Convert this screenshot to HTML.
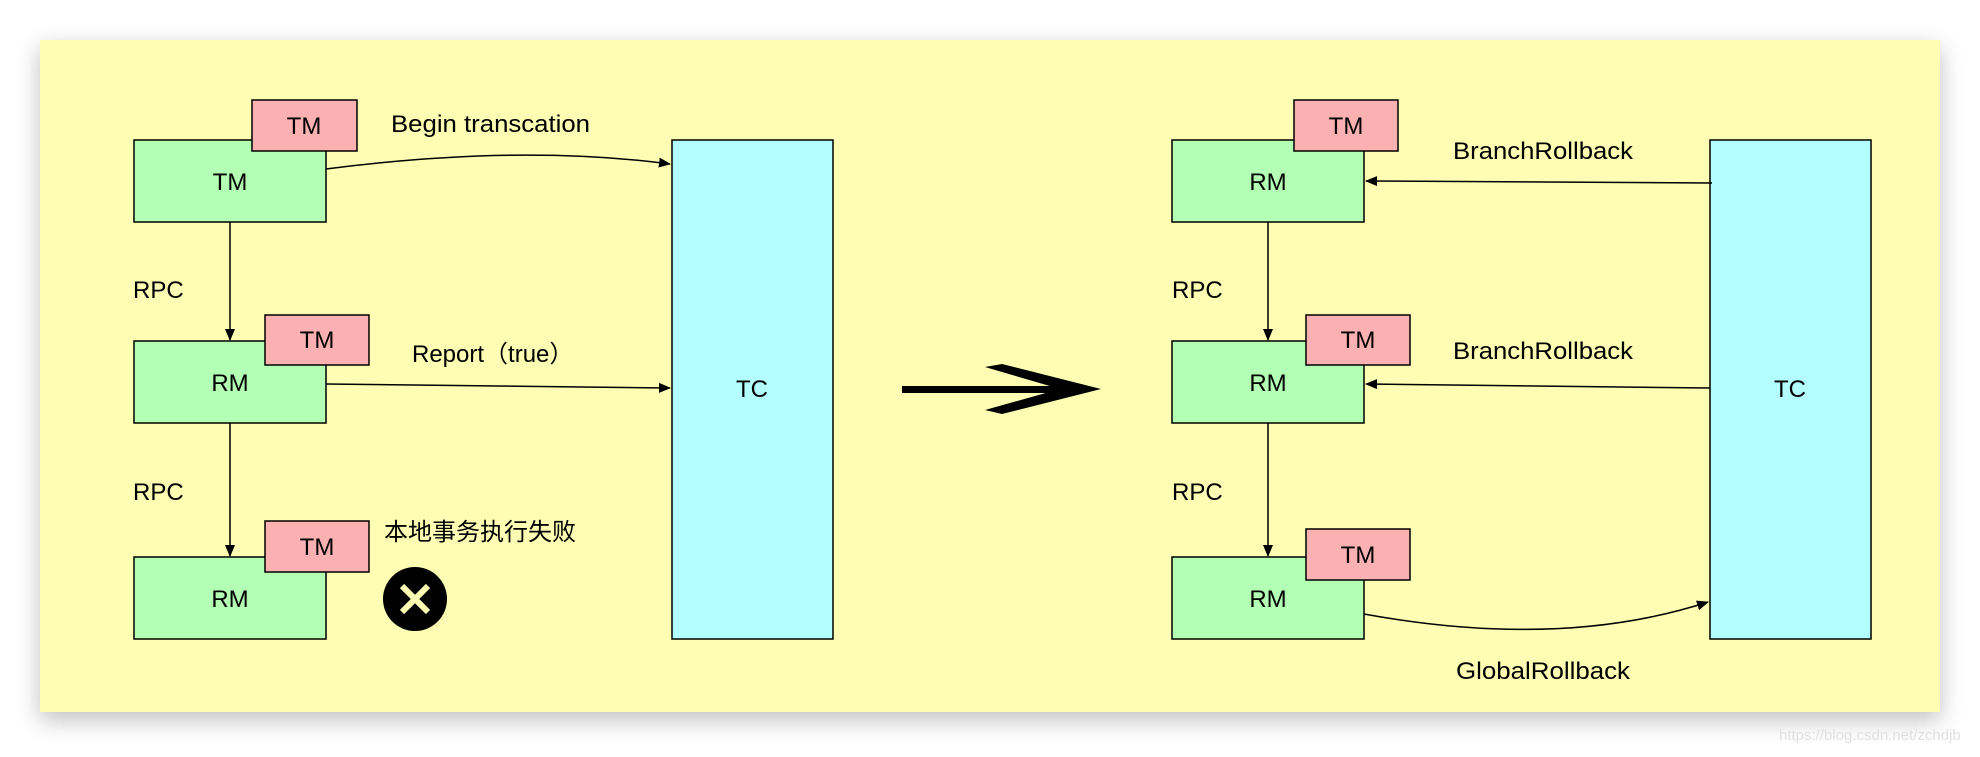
<!DOCTYPE html>
<html><head><meta charset="utf-8"><style>
body{margin:0;width:1980px;height:752px;background:#fff;overflow:hidden}
svg text{font-family:"Liberation Sans","Noto Sans CJK SC",sans-serif;font-size:24px;fill:#000}
</style></head><body>
<svg width="1980" height="752" xmlns="http://www.w3.org/2000/svg">
<defs>
<filter id="sh" x="-5%" y="-10%" width="110%" height="120%"><feGaussianBlur stdDeviation="12"/></filter>
<marker id="ar" markerWidth="12" markerHeight="10" refX="11" refY="5" orient="auto" markerUnits="userSpaceOnUse"><path d="M0,0 L12,5 L0,10 Z" fill="#000"/></marker>
</defs>
<rect x="40" y="48" width="1900" height="672" fill="#000" opacity="0.25" filter="url(#sh)"/>
<rect x="40" y="40" width="1900" height="672" fill="#fdfdb3"/>
<g stroke="#000" stroke-width="1.5">
<rect x="134" y="140" width="192" height="82" fill="#b3ffb3"/>
<rect x="252" y="100" width="105" height="51" fill="#fbb1b1"/>
<rect x="134" y="341" width="192" height="82" fill="#b3ffb3"/>
<rect x="265" y="315" width="104" height="50" fill="#fbb1b1"/>
<rect x="134" y="557" width="192" height="82" fill="#b3ffb3"/>
<rect x="265" y="521" width="104" height="51" fill="#fbb1b1"/>
<rect x="672" y="140" width="161" height="499" fill="#b3ffff"/>
<rect x="1172" y="140" width="192" height="82" fill="#b3ffb3"/>
<rect x="1294" y="100" width="104" height="51" fill="#fbb1b1"/>
<rect x="1172" y="341" width="192" height="82" fill="#b3ffb3"/>
<rect x="1306" y="315" width="104" height="50" fill="#fbb1b1"/>
<rect x="1172" y="557" width="192" height="82" fill="#b3ffb3"/>
<rect x="1306" y="529" width="104" height="51" fill="#fbb1b1"/>
<rect x="1710" y="140" width="161" height="499" fill="#b3ffff"/>
</g>
<g stroke="#000" stroke-width="1.5" fill="none" marker-end="url(#ar)">
<path d="M326,169 Q520,144 670,164"/>
<path d="M326,384 L670,388"/>
<line x1="230" y1="222" x2="230" y2="340"/>
<line x1="230" y1="423" x2="230" y2="556"/>
<path d="M1712,183 L1366,181"/>
<path d="M1710,388 L1366,384"/>
<line x1="1268" y1="222" x2="1268" y2="340"/>
<line x1="1268" y1="423" x2="1268" y2="556"/>
<path d="M1364,614 Q1560,650 1708,602"/>
</g>
<rect x="902" y="386" width="160" height="7" fill="#000"/>
<polygon points="985,367 1002,364 1101,389 1002,414 985,410 1060,389" fill="#000"/>
<circle cx="415" cy="599" r="32" fill="#000"/>
<g stroke="#fdfdb3" stroke-width="6"><line x1="402" y1="586" x2="428" y2="612"/><line x1="428" y1="586" x2="402" y2="612"/></g>
<g text-anchor="middle">
<text x="304" y="134">TM</text><text x="230" y="190">TM</text>
<text x="317" y="348">TM</text><text x="230" y="391">RM</text>
<text x="317" y="555">TM</text><text x="230" y="607">RM</text>
<text x="752" y="397">TC</text>
<text x="1346" y="134">TM</text><text x="1268" y="190">RM</text>
<text x="1358" y="348">TM</text><text x="1268" y="391">RM</text>
<text x="1358" y="563">TM</text><text x="1268" y="607">RM</text>
<text x="1790" y="397">TC</text>
</g>
<text x="391" y="132" textLength="199" lengthAdjust="spacingAndGlyphs">Begin transcation</text>
<text x="412" y="362">Report（true）</text>
<text x="133" y="298">RPC</text>
<text x="133" y="500">RPC</text>
<text x="384" y="540">本地事务执行失败</text>
<text x="1453" y="159" textLength="180" lengthAdjust="spacingAndGlyphs">BranchRollback</text>
<text x="1453" y="359" textLength="180" lengthAdjust="spacingAndGlyphs">BranchRollback</text>
<text x="1172" y="298">RPC</text>
<text x="1172" y="500">RPC</text>
<text x="1456" y="679" textLength="174" lengthAdjust="spacingAndGlyphs">GlobalRollback</text>
<text x="1779" y="740" style="font-size:15px;fill:#e0e0e0">https://blog.csdn.net/zchdjb</text>
</svg>
</body></html>
